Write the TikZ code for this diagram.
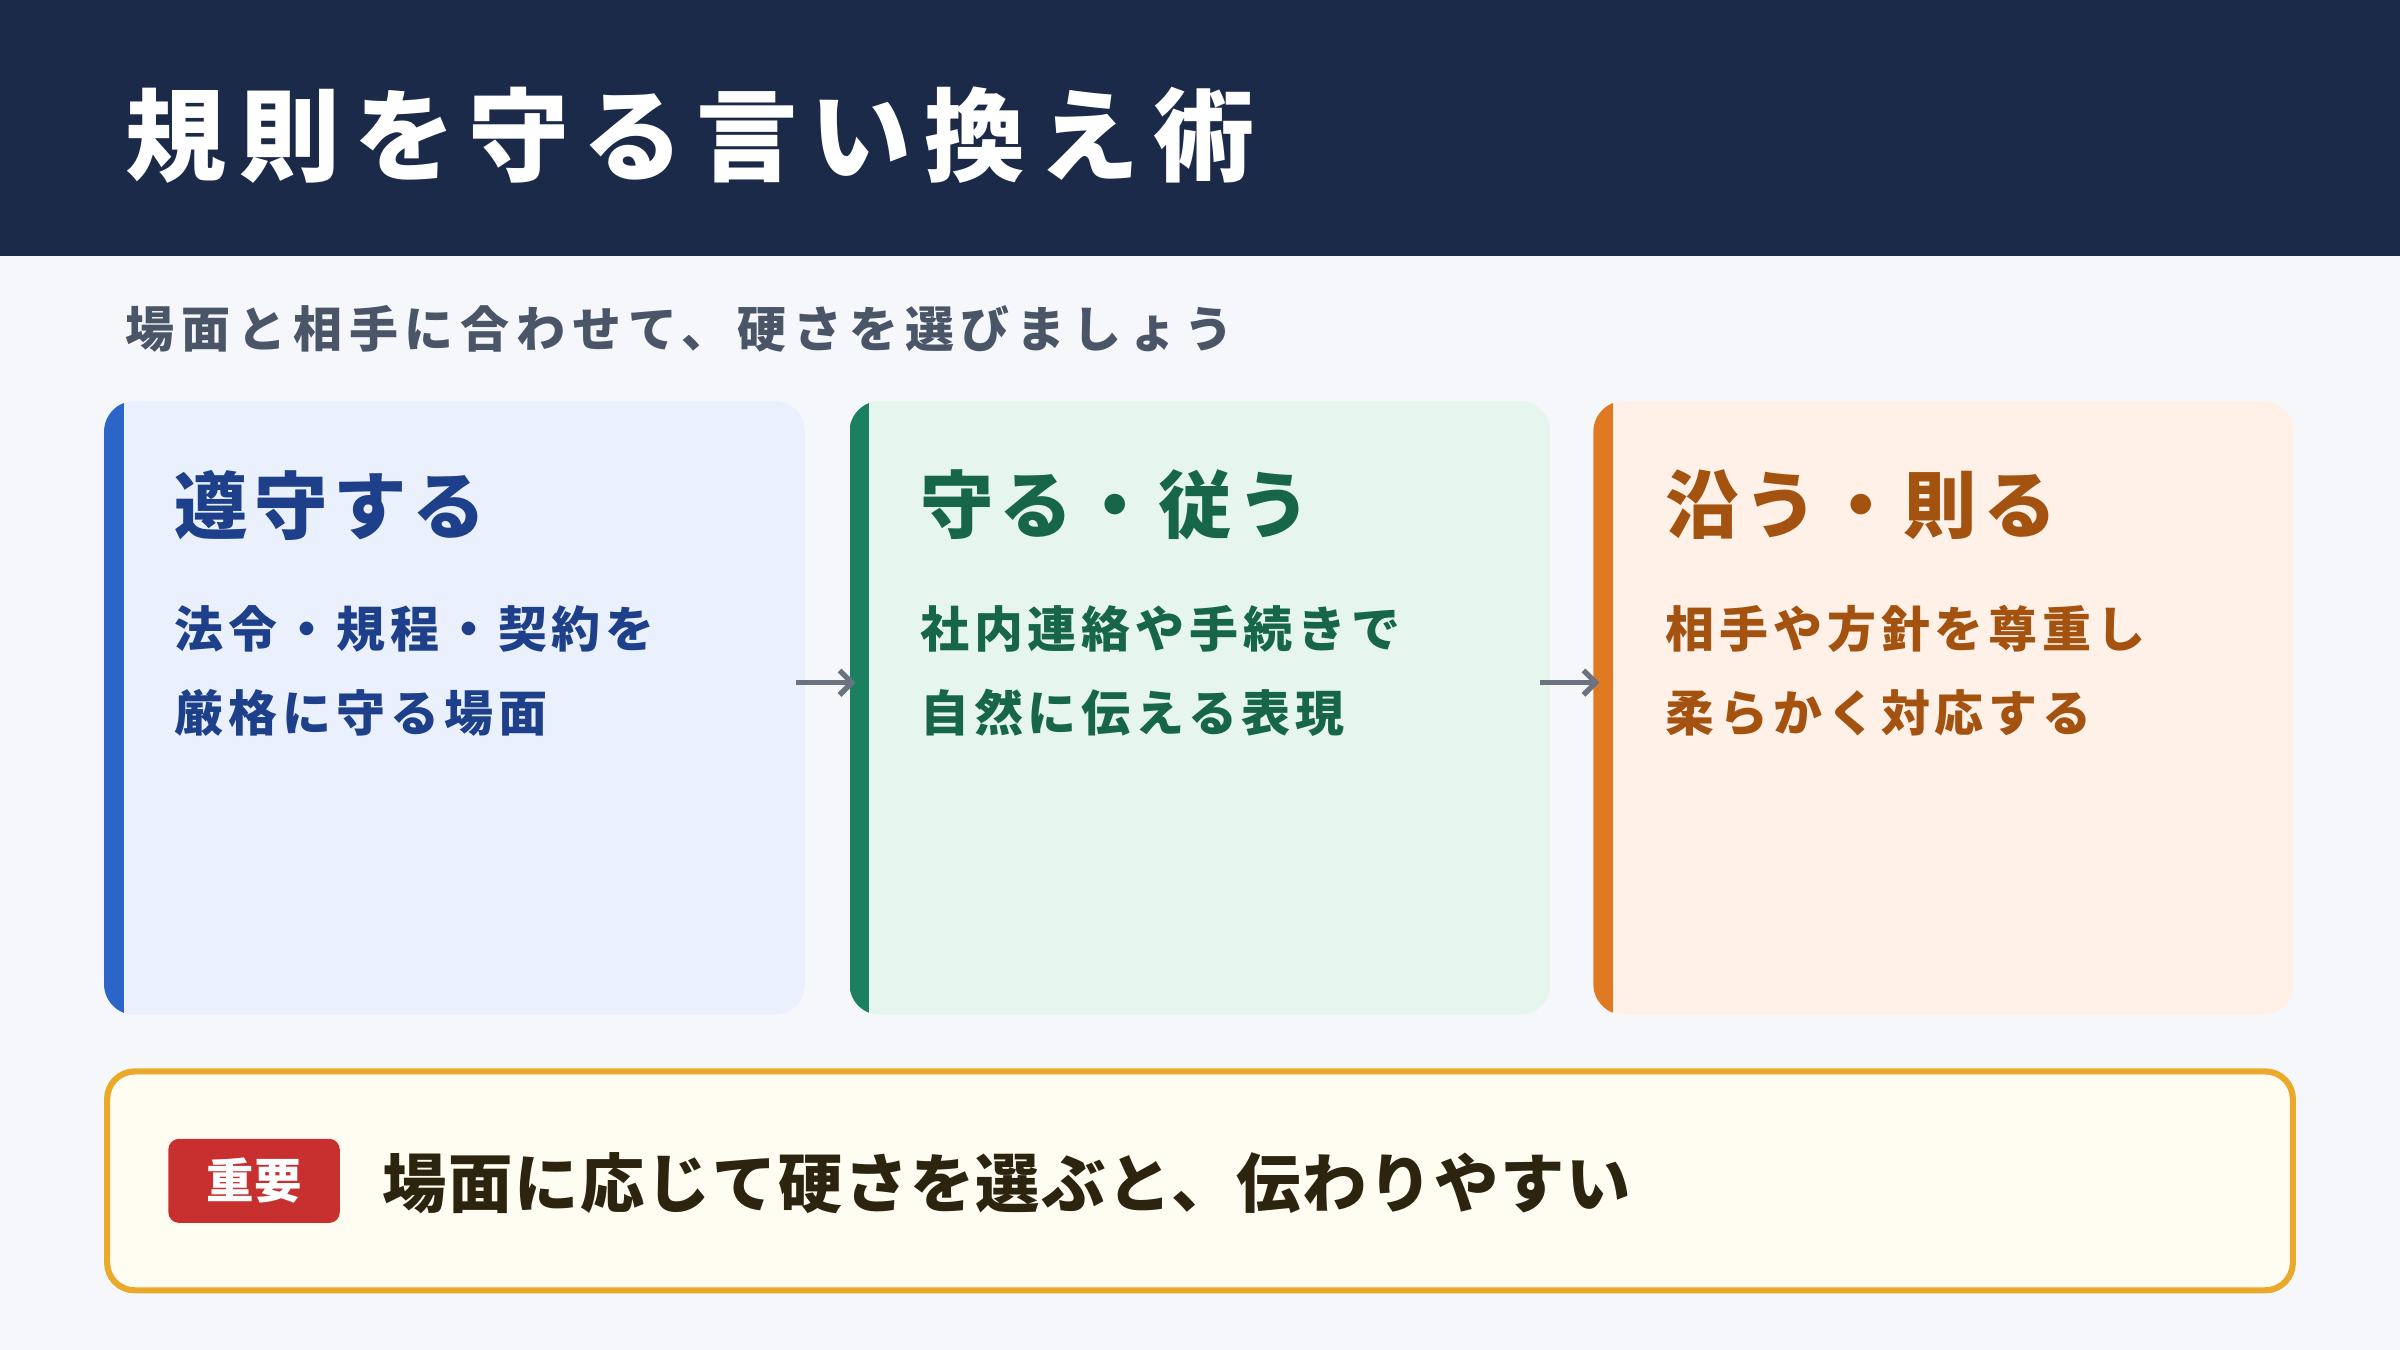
\documentclass[tikz,border=0pt]{standalone}
\usepackage{fontspec}
\usetikzlibrary{arrows.meta}
\setmainfont{Noto Sans CJK JP}
\definecolor{bg}{HTML}{F5F7FB}
\definecolor{navy}{HTML}{1C2A4A}
\definecolor{sub}{HTML}{4A5568}
\definecolor{fb}{HTML}{EAF1FD}\definecolor{bb}{HTML}{2B65C8}\definecolor{tb}{HTML}{1E3F8A}
\definecolor{fg}{HTML}{E6F6EF}\definecolor{bgn}{HTML}{1A8060}\definecolor{tg}{HTML}{17664A}
\definecolor{fo}{HTML}{FFF1E8}\definecolor{bo}{HTML}{E07A22}\definecolor{to}{HTML}{A4520F}
\definecolor{arr}{HTML}{6B7280}
\definecolor{nf}{HTML}{FFFCF2}\definecolor{nb}{HTML}{EBA92A}
\definecolor{red}{HTML}{C8302F}\definecolor{dk}{HTML}{2D2410}
\begin{document}
\begin{tikzpicture}[x=1pt,y=-1pt,
  ttl/.style={anchor=west,inner sep=0,font=\bfseries\fontsize{48}{52}\selectfont\addfontfeatures{LetterSpace=8}},
  body/.style={anchor=west,inner sep=0,font=\bfseries\fontsize{32}{36}\selectfont\addfontfeatures{LetterSpace=10}},
  ar/.style={arr,line width=3.5pt,-{Straight Barb[length=8pt,width=16pt,line width=3.5pt]}}]
\useasboundingbox (0,0) rectangle (1568,882);
\fill[bg] (0,0) rectangle (1568,882);
\fill[navy] (0,0) rectangle (1568,167);
\node[anchor=west,inner sep=0,text=white,font=\bfseries\fontsize{66}{70}\selectfont\addfontfeatures{LetterSpace=13}] (title) at (82,88) {規則を守る言い換え術};
\node[anchor=west,inner sep=0,text=sub,font=\bfseries\fontsize{32}{36}\selectfont\addfontfeatures{LetterSpace=14}] (subt) at (82,215) {場面と相手に合わせて、硬さを選びましょう};
\foreach \x/\f/\b in {68/fb/bb,555/fg/bgn,1041/fo/bo}{
  \begin{scope}
  \clip[rounded corners=20pt] (\x,262) rectangle ++(458,401);
  \fill[\f] (\x,262) rectangle ++(458,401);
  \fill[\b] (\x,262) rectangle ++(13,401);
  \end{scope}
}
\node[ttl,text=tb] (t1) at (114,330) {遵守する};
\node[body,text=tb] (a1) at (114,411) {法令・規程・契約を};
\node[body,text=tb] (b1) at (114,466) {厳格に守る場面};
\node[ttl,text=tg] (t2) at (601,330) {守る・従う};
\node[body,text=tg] (a2) at (601,411) {社内連絡や手続きで};
\node[body,text=tg] (b2) at (601,466) {自然に伝える表現};
\node[ttl,text=to] (t3) at (1088,330) {沿う・則る};
\node[body,text=to] (a3) at (1088,411) {相手や方針を尊重し};
\node[body,text=to] (b3) at (1088,466) {柔らかく対応する};
\coordinate (p1) at (520,446); \coordinate (q1) at (559,446);
\coordinate (p2) at (1006,446); \coordinate (q2) at (1045,446);
\draw[ar] (p1) -- (q1);
\draw[ar] (p2) -- (q2);
\draw[nb,fill=nf,line width=4pt,rounded corners=18pt] (70,700) rectangle (1498,843);
\fill[red,rounded corners=7pt] (110,744) rectangle (222,799);
\node[inner sep=0,text=white,font=\bfseries\fontsize{31}{34}\selectfont] (badge) at (166,771.5) {重要};
\node[anchor=west,inner sep=0,text=dk,font=\bfseries\fontsize{42}{46}\selectfont\addfontfeatures{LetterSpace=2.5}] (note) at (250,773) {場面に応じて硬さを選ぶと、伝わりやすい};
\end{tikzpicture}
\end{document}
